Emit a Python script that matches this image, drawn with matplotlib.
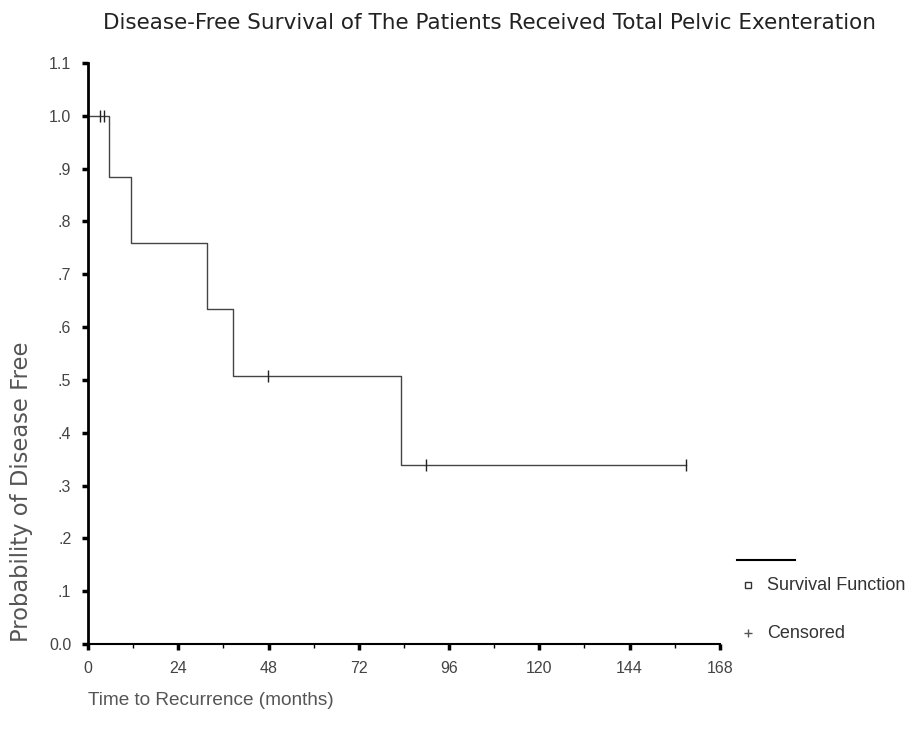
import matplotlib
matplotlib.use("Agg")
import matplotlib.pyplot as plt
from matplotlib import font_manager
import numpy as np

plt.rcParams['font.family'] = ['Liberation Sans', 'DejaVu Sans']

# Kaplan-Meier step data
step_times = [0, 5.6, 11.4, 31.6, 38.5, 83.2, 159]
step_surv = [1.0, 0.885, 0.76, 0.635, 0.507, 0.338, 0.338]
censor_times = [3.2, 4.3, 47.8, 90.0, 159.0]
censor_surv = [1.0, 1.0, 0.507, 0.338, 0.338]

x_ticks = [0, 24, 48, 72, 96, 120, 144, 168]
x_minor = [12, 36, 60, 84, 108, 132, 156]
y_ticks = [0.0, 0.1, 0.2, 0.3, 0.4, 0.5, 0.6, 0.7, 0.8, 0.9, 1.0, 1.1]
y_labels = ["0.0", ".1", ".2", ".3", ".4", ".5", ".6", ".7", ".8", ".9", "1.0", "1.1"]

txt = '#333333'
fig = plt.figure(figsize=(9.1, 7.37), dpi=100)
ax = fig.add_axes([0.0967, 0.1262, 0.6943, 0.7883])

ax.step(step_times, step_surv, where='post', color='#444444', lw=1.0)
ax.plot(censor_times, censor_surv, linestyle='none', marker='|', markersize=8,
        color='#222222', mew=1.0)

ax.set_xlim(0, 168)
ax.set_ylim(0, 1.1)
ax.set_xticks(x_ticks)
ax.set_xticks(x_minor, minor=True)
ax.set_yticks(y_ticks)
ax.set_yticklabels(y_labels)
ax.tick_params(axis='both', which='major', length=4, width=2.5, colors='black',
               labelcolor='#444444', labelsize=11.5)
ax.tick_params(axis='x', which='minor', length=3, width=1)
ax.tick_params(axis='x', pad=8)
ax.tick_params(axis='y', pad=8)
for s in ['top', 'right']:
    ax.spines[s].set_visible(False)
ax.spines['left'].set_linewidth(2.0)
ax.spines['bottom'].set_linewidth(1.5)

fig.text(0.538, 0.969, "Disease-Free Survival of The Patients Received Total Pelvic Exenteration",
         ha='center', va='center', fontsize=15.5, color='#222222', family=['DejaVu Sans'])
fig.text(0.024, 0.333, "Probability of Disease Free", rotation=90, ha='center', va='center',
         fontsize=16.3, color='#555555', family=['DejaVu Sans'])
fig.text(0.0967, 0.05, "Time to Recurrence (months)", ha='left', va='center',
         fontsize=13.7, color='#555555')

# legend (drawn manually in figure coords)
fig.lines.append(plt.Line2D([737/910, 795/910], [1-560/737, 1-560/737],
                            transform=fig.transFigure, color='black', lw=1.5))
fig.lines.append(plt.Line2D([748/910], [1-585/737], transform=fig.transFigure,
                            marker='s', markersize=4, mfc='white', mec='#333333',
                            linestyle='none'))
fig.lines.append(plt.Line2D([748/910], [1-633/737], transform=fig.transFigure,
                            marker='+', markersize=6, color='#555555', linestyle='none'))
fig.text(767/910, 1-585/737, "Survival Function", ha='left', va='center', fontsize=13, color=txt)
fig.text(767/910, 1-633/737, "Censored", ha='left', va='center', fontsize=13, color=txt)

fig.savefig("out.png", dpi=100)
